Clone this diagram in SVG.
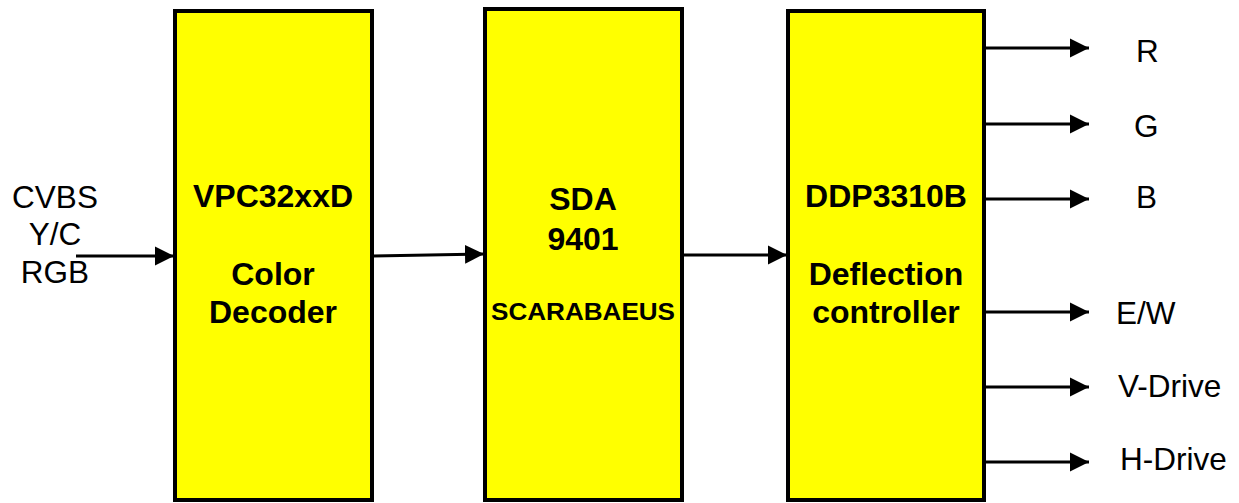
<svg xmlns="http://www.w3.org/2000/svg" width="1239" height="503" viewBox="0 0 1239 503">
<style>
.box{fill:#ffff00;stroke:#000;stroke-width:4}
.bt{font-family:"Liberation Sans",Arial,sans-serif;font-weight:bold;font-size:32px;text-anchor:middle;fill:#000}
.st{font-family:"Liberation Sans",Arial,sans-serif;font-weight:bold;font-size:23px;text-anchor:middle;fill:#000}
.lt{font-family:"Liberation Sans",Arial,sans-serif;font-size:31.5px;fill:#000}
.c{stroke:#000;stroke-width:3;fill:none}
</style>
<defs>
<marker id="ah" markerUnits="userSpaceOnUse" markerWidth="19" markerHeight="20" refX="19" refY="10" orient="auto">
<path d="M0,0.5 L19,10 L0,19.5 Z" fill="#000"/>
</marker>
</defs>
<g id="node-vpc">
<rect class="box" x="175" y="11" width="197" height="489"/>
<text class="bt" x="273" y="207">VPC32xxD</text>
<text class="bt" x="273" y="285">Color</text>
<text class="bt" x="273" y="323">Decoder</text>
</g>
<g id="node-sda">
<rect class="box" x="485" y="9" width="197" height="491"/>
<text class="bt" x="583" y="210">SDA</text>
<text class="bt" x="583" y="250">9401</text>
<text class="st" x="583" y="320" textLength="184" lengthAdjust="spacingAndGlyphs">SCARABAEUS</text>
</g>
<g id="node-ddp">
<rect class="box" x="788" y="11" width="196" height="489"/>
<text class="bt" x="886" y="207">DDP3310B</text>
<text class="bt" x="886" y="285">Deflection</text>
<text class="bt" x="886" y="323">controller</text>
</g>
<g id="inputs">
<text class="lt" x="55" y="208" text-anchor="middle">CVBS</text>
<text class="lt" x="55" y="245" text-anchor="middle">Y/C</text>
<text class="lt" x="55" y="283" text-anchor="middle">RGB</text>
</g>
<g id="outputs">
<text class="lt" x="1136" y="62">R</text>
<text class="lt" x="1134" y="137">G</text>
<text class="lt" x="1136" y="208">B</text>
<text class="lt" x="1116" y="324">E/W</text>
<text class="lt" x="1118" y="397">V-Drive</text>
<text class="lt" x="1120" y="470">H-Drive</text>
</g>
<g id="connectors">
<line class="c" x1="76" y1="256" x2="174" y2="256" marker-end="url(#ah)"/>
<line class="c" x1="373" y1="256" x2="484" y2="254" marker-end="url(#ah)"/>
<line class="c" x1="684" y1="255" x2="787" y2="255" marker-end="url(#ah)"/>
<line class="c" x1="986" y1="48" x2="1089" y2="48" marker-end="url(#ah)"/>
<line class="c" x1="986" y1="124" x2="1089" y2="124" marker-end="url(#ah)"/>
<line class="c" x1="986" y1="199" x2="1089" y2="199" marker-end="url(#ah)"/>
<line class="c" x1="986" y1="312" x2="1089" y2="312" marker-end="url(#ah)"/>
<line class="c" x1="986" y1="387" x2="1089" y2="387" marker-end="url(#ah)"/>
<line class="c" x1="986" y1="462" x2="1089" y2="462" marker-end="url(#ah)"/>
</g>
</svg>
